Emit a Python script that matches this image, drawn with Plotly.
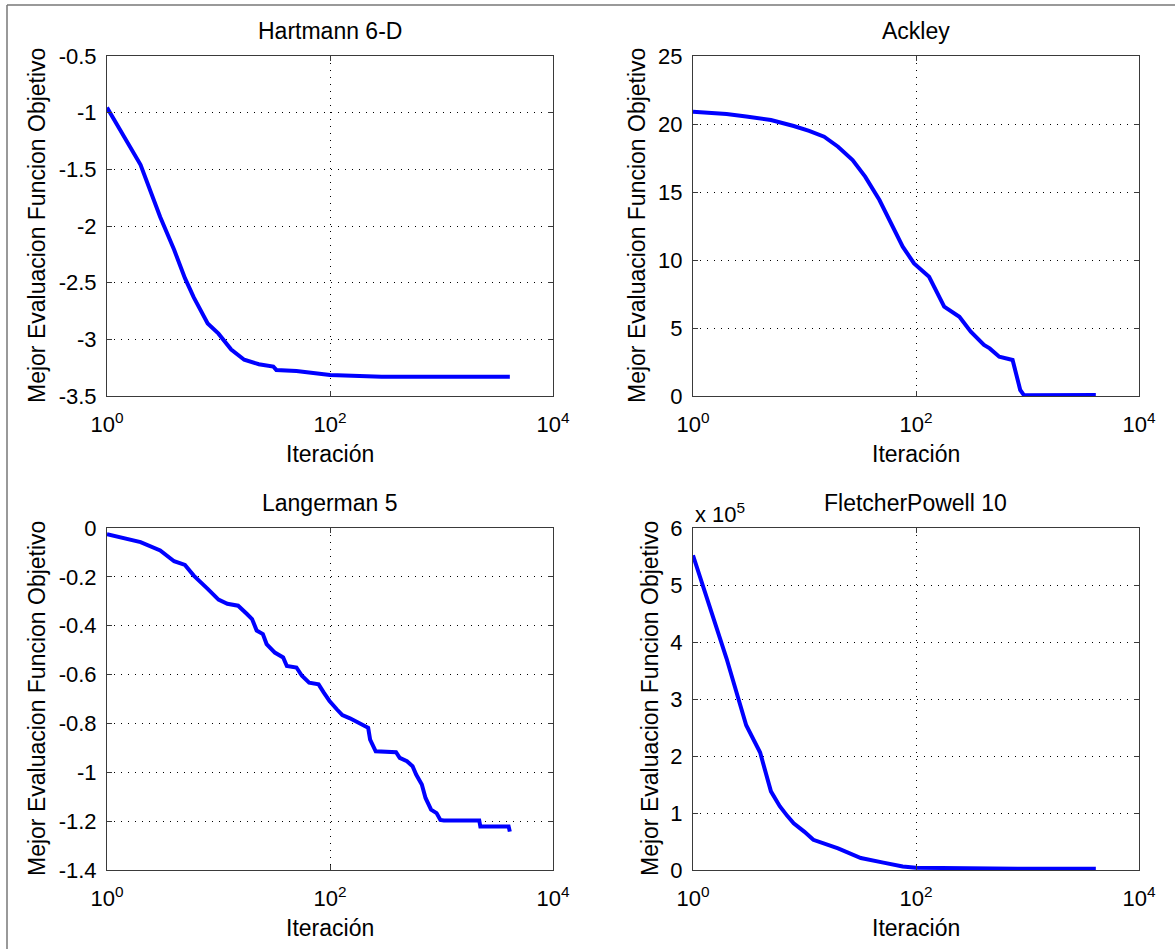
import plotly.graph_objects as go

# ---------------- data ----------------
hart_iter = [1, 2, 3, 4, 5, 6, 8, 10, 13, 17, 23, 31, 33, 50, 100, 290, 4100]
hart_val = [-0.955, -1.46, -1.92, -2.21, -2.46, -2.63, -2.86, -2.95, -3.09, -3.18,
            -3.22, -3.24, -3.27, -3.28, -3.315, -3.33, -3.33]

ackley_iter = [1, 2, 3, 5, 8, 11, 15, 20, 27, 35, 47, 60, 76, 96, 131, 179, 218, 245, 310,
               407, 458, 558, 735, 760, 861, 931, 1900, 4100]
ackley_val = [20.9, 20.73, 20.55, 20.29, 19.85, 19.5, 19.07, 18.33, 17.35, 16.13, 14.41, 12.7,
              10.98, 9.75, 8.77, 6.57, 6.08, 5.83, 4.73, 3.75, 3.5, 2.89, 2.65, 2.16, 0.44,
              0.05, 0.05, 0.07]

lang_iter = [1, 2, 3, 4, 5, 6, 8, 10, 12, 15, 18, 20, 22, 25, 27, 32, 38, 41, 50, 56, 65,
             79, 88, 99, 115, 129, 151, 182, 220, 229, 257, 391, 422, 490, 550, 594, 666,
             719, 806, 903, 977, 1050, 2180, 2230, 4000, 4100]
lang_val = [-0.025, -0.058, -0.092, -0.136, -0.151, -0.195, -0.249, -0.293, -0.31, -0.318,
            -0.352, -0.373, -0.42, -0.434, -0.475, -0.51, -0.53, -0.565, -0.571, -0.605,
            -0.633, -0.64, -0.674, -0.708, -0.742, -0.766, -0.779, -0.797, -0.818, -0.866,
            -0.914, -0.918, -0.941, -0.955, -0.975, -1.01, -1.05, -1.105, -1.153, -1.167,
            -1.195, -1.197, -1.197, -1.222, -1.222, -1.243]

fp_iter = [1, 2, 3, 4, 5, 6, 7, 8, 10, 12, 20, 32, 51, 76, 100, 245, 1000, 4100]
fp_val = [5.52e5, 3.71e5, 2.54e5, 2.06e5, 1.38e5, 1.12e5, 0.95e5, 0.82e5, 0.67e5, 0.53e5,
          0.38e5, 0.21e5, 0.13e5, 0.06e5, 0.04e5, 0.03e5, 0.02e5, 0.02e5]

titles = ["Hartmann 6-D", "Ackley", "Langerman 5", "FletcherPowell 10"]
x_title = "Iteración"
y_title = "Mejor Evaluacion Funcion Objetivo"

x_tickvals = [1, 100, 10000]
x_ticktext = ["10<sup>0</sup>", "10<sup>2</sup>", "10<sup>4</sup>"]

hart_tickvals = [-3.5, -3, -2.5, -2, -1.5, -1, -0.5]
hart_ticktext = ["-3.5", "-3", "-2.5", "-2", "-1.5", "-1", "-0.5"]
ackley_tickvals = [0, 5, 10, 15, 20, 25]
ackley_ticktext = ["0", "5", "10", "15", "20", "25"]
lang_tickvals = [-1.4, -1.2, -1, -0.8, -0.6, -0.4, -0.2, 0]
lang_ticktext = ["-1.4", "-1.2", "-1", "-0.8", "-0.6", "-0.4", "-0.2", "0"]
fp_tickvals = [0, 1e5, 2e5, 3e5, 4e5, 5e5, 6e5]
fp_ticktext = ["0", "1", "2", "3", "4", "5", "6"]
fp_exponent = "x 10<sup>5</sup>"

# ---------------- layout geometry ----------------
W, H = 1175, 949
FONT = "Liberation Sans, Arial, sans-serif"
FS_TICK = 22
FS_TEXT = 23

def px_x(v):
    return v / W

def px_y(v):
    return 1 - v / H

col_x = [(107, 553), (693, 1139)]
row_y = [(56, 396), (528, 870)]
ytitle_x = [37, 637, 37, 650]

fig = go.Figure()

series = [(hart_iter, hart_val), (ackley_iter, ackley_val),
          (lang_iter, lang_val), (fp_iter, fp_val)]
yspec = [
    (hart_tickvals, hart_ticktext, [-3.5, -0.5]),
    (ackley_tickvals, ackley_ticktext, [0, 25]),
    (lang_tickvals, lang_ticktext, [-1.4, 0]),
    (fp_tickvals, fp_ticktext, [0, 6e5]),
]

common_axis = dict(
    showline=True, linecolor="#3a3a3a", linewidth=1, mirror="allticks",
    ticks="inside", ticklen=5, tickcolor="#3a3a3a", tickwidth=1,
    showgrid=True, gridcolor="#000000", gridwidth=1, griddash="1px,6px",
    zeroline=False, automargin=False,
    tickfont=dict(family=FONT, size=FS_TICK, color="#000"),
)

annotations = []
layout_axes = {}
for i, ((xs, ys), (tv, tt, yr)) in enumerate(zip(series, yspec)):
    r, c = divmod(i, 2)
    n = "" if i == 0 else str(i + 1)
    x0, x1 = col_x[c]
    y0, y1 = row_y[r]
    fig.add_trace(go.Scatter(
        x=xs, y=ys, mode="lines",
        line=dict(color="#0000FF", width=4),
        xaxis="x" + n, yaxis="y" + n, showlegend=False,
        hoverinfo="x+y",
    ))
    layout_axes["xaxis" + n] = dict(
        common_axis, type="log", range=[0, 4], domain=[px_x(x0), px_x(x1)],
        anchor="y" + n, tickvals=x_tickvals, ticktext=x_ticktext,
        ticklabelstandoff=9,
    )
    layout_axes["yaxis" + n] = dict(
        common_axis, range=yr, domain=[px_y(y1), px_y(y0)],
        anchor="x" + n, tickvals=tv, ticktext=tt, ticklabelstandoff=5,
    )
    cx = (x0 + x1) / 2
    cy = (y0 + y1) / 2
    # subplot title
    annotations.append(dict(
        text=titles[i], x=px_x(cx), y=px_y(y0 - 25), xref="paper", yref="paper",
        xanchor="center", yanchor="middle", showarrow=False,
        font=dict(family=FONT, size=FS_TEXT, color="#000"),
    ))
    # x axis title
    annotations.append(dict(
        text=x_title, x=px_x(cx), y=px_y(y1 + 58), xref="paper", yref="paper",
        xanchor="center", yanchor="middle", showarrow=False,
        font=dict(family=FONT, size=FS_TEXT, color="#000"),
    ))
    # y axis title
    annotations.append(dict(
        text=y_title, x=px_x(ytitle_x[i]), y=px_y(cy), xref="paper", yref="paper",
        xanchor="center", yanchor="middle", textangle=-90, showarrow=False,
        font=dict(family=FONT, size=FS_TEXT, color="#000"),
    ))

# exponent label for the FletcherPowell subplot
annotations.append(dict(
    text=fp_exponent, x=px_x(col_x[1][0]), y=px_y(row_y[1][0] - 15),
    xref="paper", yref="paper", xanchor="left", yanchor="middle",
    showarrow=False, font=dict(family=FONT, size=FS_TICK, color="#000"),
))

shapes = [
    dict(type="line", xref="paper", yref="paper", x0=px_x(7), x1=1.0,
         y0=px_y(5), y1=px_y(5), line=dict(color="#777777", width=1.5)),
    dict(type="line", xref="paper", yref="paper", x0=px_x(7), x1=px_x(7),
         y0=px_y(5), y1=0.0, line=dict(color="#777777", width=1.5)),
]

fig.update_layout(
    width=W, height=H,
    margin=dict(l=0, r=0, t=0, b=0),
    paper_bgcolor="white", plot_bgcolor="white",
    annotations=annotations, shapes=shapes,
    font=dict(family=FONT, size=FS_TEXT, color="#000"),
    **layout_axes,
)

fig.write_html("out.html", config={"displayModeBar": False},
               post_script="document.body.style.margin='0';")
